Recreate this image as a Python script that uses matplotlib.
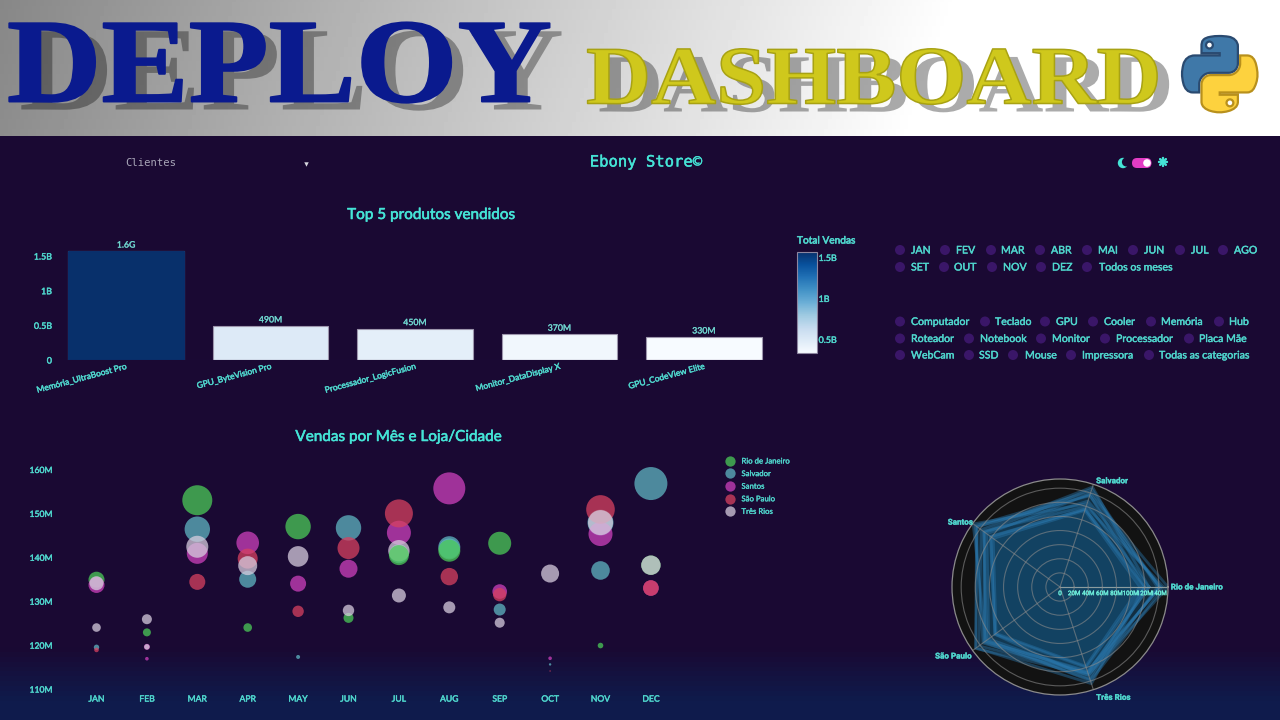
import re
import numpy as np
import matplotlib
matplotlib.use("Agg")
import matplotlib.pyplot as plt
import matplotlib.patheffects as pe
from matplotlib.cm import ScalarMappable
from matplotlib.colors import Normalize
from matplotlib.lines import Line2D
from matplotlib.patches import Circle, FancyBboxPatch, PathPatch
from matplotlib.path import Path
from matplotlib.transforms import Affine2D

plt.rcParams["font.family"] = ["Lato", "DejaVu Sans"]

W, H = 1280, 720
TEAL = "#45e4d6"
TEAL_DIM = "#4fd6cd"
BG = "#1a0933"

# --- Top 5 produtos ---
produtos = ["Memória_UltraBoost Pro", "GPU_ByteVision Pro", "Processador_LogicFusion",
            "Monitor_DataDisplay X", "GPU_CodeView Elite"]
total_vendas = [1.57e9, 0.49e9, 0.45e9, 0.37e9, 0.33e9]

# --- Vendas por mes e loja: mes (indice), valor em milhoes, peso da bolha ---
meses = ["JAN", "FEB", "MAR", "APR", "MAY", "JUN", "JUL", "AUG", "SEP", "OCT", "NOV", "DEC"]

rio_mes = [0, 1, 2, 3, 4, 5, 8, 10, 11]
rio_val = [134.9, 122.9, 153.0, 124.0, 147.0, 126.2, 143.2, 119.9, 138.2]
rio_peso = [8, 4, 15, 4.3, 12.7, 5, 11.5, 2.8, 9.7]

salvador_mes = [0, 2, 3, 4, 5, 6, 7, 7, 8, 9, 10, 10, 11]
salvador_val = [119.5, 146.4, 135.0, 117.3, 146.7, 140.8, 142.3, 141.9, 128.1, 115.6, 147.9, 137.0, 156.8]
salvador_peso = [2.7, 12.7, 8.5, 2, 12.7, 9.5, 11, 10.5, 6, 1.2, 13, 9.3, 16.5]

santos_mes = [0, 1, 1, 2, 3, 4, 5, 6, 7, 8, 9, 10, 11]
santos_val = [133.7, 119.6, 116.9, 140.9, 143.3, 134.0, 137.4, 145.6, 155.7, 132.2, 117.0, 145.3, 133.0]
santos_peso = [8, 3, 1.8, 10.5, 11.3, 8, 9, 12, 16, 7.3, 1.8, 12, 7.8]

sp_mes = [0, 2, 3, 4, 5, 6, 7, 8, 9, 10, 11]
sp_val = [118.9, 134.4, 139.7, 127.7, 142.1, 150.0, 135.6, 131.5, 114.1, 150.9, 133.0]
sp_peso = [2.3, 8, 10, 5.7, 11, 14, 8.7, 6.7, 0.7, 14.3, 7.8]

tres_mes = [0, 0, 1, 1, 2, 3, 4, 5, 6, 6, 7, 8, 9, 10, 11]
tres_val = [134.1, 124.0, 125.9, 119.6, 142.4, 138.1, 140.2, 127.9, 141.5, 131.3, 128.6, 125.1, 136.3, 147.9, 138.2]
tres_peso = [7, 4.3, 5, 2.7, 11, 9.5, 10.3, 5.7, 10.7, 7, 6, 5, 9, 12.5, 9.7]

# pontos do Rio que ficam por cima das outras lojas
rio_topo_mes = [6, 7]
rio_topo_val = [140.5, 141.5]
rio_topo_peso = [10, 11]

lojas = ["Rio de Janeiro", "Salvador", "Santos", "São Paulo", "Três Rios"]
cores_lojas = ["#4bca58", "#5fb5c2", "#cd40bc", "#d74160", "#d6ccde"]

# --- Radar: um poligono por mes (Rio, Salvador, Santos, Sao Paulo, Tres Rios), em milhoes ---
radar_jan = [118, 116, 122, 114, 120]
radar_fev = [113, 114, 117, 112, 118]
radar_mar = [153, 139, 128, 125, 131]
radar_abr = [126, 124, 152, 130, 127]
radar_mai = [147, 120, 134, 128, 140]
radar_jun = [126, 149, 138, 142, 128]
radar_jul = [141, 136, 146, 148, 131]
radar_ago = [141, 142, 148, 135, 129]
radar_set = [143, 128, 132, 131, 125]
radar_out = [120, 116, 121, 114, 136]
radar_nov = [120, 137, 145, 147, 144]
radar_dez = [138, 146, 133, 133, 138]
radar_meses = [radar_jan, radar_fev, radar_mar, radar_abr, radar_mai, radar_jun,
               radar_jul, radar_ago, radar_set, radar_out, radar_nov, radar_dez]
radar_ticks = [0, 20, 40, 60, 80, 100, 120, 140]

# --- Filtros (radio items): texto, x da bolinha, x do texto ---
filtro_meses_1 = ["JAN", "FEV", "MAR", "ABR", "MAI", "JUN", "JUL", "AGO"]
filtro_meses_2 = ["SET", "OUT", "NOV", "DEZ", "Todos os meses"]
filtro_cat_1 = ["Computador", "Teclado", "GPU", "Cooler", "Memória", "Hub"]
filtro_cat_2 = ["Roteador", "Notebook", "Monitor", "Processador", "Placa Mãe"]
filtro_cat_3 = ["WebCam", "SSD", "Mouse", "Impressora", "Todas as categorias"]

linhas_filtro = [
    (250, filtro_meses_1, [900, 945, 991, 1040, 1087, 1133, 1180, 1223],
     [911, 956, 1001, 1051, 1098, 1144, 1191, 1234]),
    (267, filtro_meses_2, [900, 944, 992, 1041, 1087], [911, 954, 1003, 1052, 1099]),
    (321.5, filtro_cat_1, [900, 985, 1045, 1093, 1151, 1219], [911, 995, 1056, 1104, 1161, 1229]),
    (338.5, filtro_cat_2, [900, 969, 1041, 1105, 1189], [911, 980, 1052, 1116, 1199]),
    (355, filtro_cat_3, [900, 969, 1013, 1071, 1149], [911, 979, 1025, 1082, 1159]),
]

# contorno do logo do Python
LOGO_AZUL = ("M54.919,0.001 C50.335,0.022 45.958,0.413 42.106,1.095 C30.760,3.099 28.700,7.295 28.700,15.032 "
             "V25.25 H55.513 V28.656 H28.700 H18.638 C10.845,28.656 4.022,33.340 1.888,42.250 "
             "C-0.574,52.463 -0.683,58.836 1.888,69.500 C3.794,77.438 8.345,83.094 16.138,83.094 H25.357 V70.844 "
             "C25.357,61.994 33.014,54.188 42.106,54.188 H68.888 C76.342,54.188 82.294,48.050 82.294,40.563 V15.032 "
             "C82.294,7.766 76.164,2.307 68.888,1.095 C64.282,0.328 59.503,-0.020 54.919,0.001 Z "
             "M40.419,8.219 C43.188,8.219 45.450,10.517 45.450,13.344 C45.450,16.160 43.188,18.438 40.419,18.438 "
             "C37.640,18.438 35.388,16.160 35.388,13.344 C35.388,10.517 37.640,8.219 40.419,8.219 Z")
LOGO_AMARELO = ("M85.638,28.657 V40.563 C85.638,49.794 77.812,57.563 68.888,57.563 H42.106 "
                "C34.770,57.563 28.700,63.841 28.700,71.188 V96.719 C28.700,103.985 35.018,108.259 42.106,110.344 "
                "C50.594,112.840 58.734,113.291 68.888,110.344 C75.638,108.389 82.294,104.456 82.294,96.719 V86.500 "
                "H55.513 V83.094 H82.294 H95.700 C103.493,83.094 106.397,77.658 109.106,69.500 "
                "C111.905,61.102 111.786,53.025 109.106,42.250 C107.181,34.492 103.504,28.657 95.700,28.657 Z "
                "M70.575,93.313 C73.354,93.313 75.606,95.591 75.606,98.407 C75.606,101.234 73.354,103.532 70.575,103.532 "
                "C67.806,103.532 65.544,101.234 65.544,98.407 C65.544,95.591 67.806,93.313 70.575,93.313 Z")


class TextoLargo(pe.AbstractPathEffect):
    # estica o texto na horizontal a partir de x0 (px) e desenha sombra e contorno
    def __init__(self, sx, x0, sombra=(12, -8), contorno="#000000", lw=0.8):
        super().__init__()
        self.sx, self.x0, self.sombra, self.contorno, self.lw = sx, x0, sombra, contorno, lw

    def draw_path(self, renderer, gc, tpath, affine, rgbFace=None):
        larga = affine + Affine2D().translate(-self.x0, 0).scale(self.sx, 1).translate(self.x0, 0)
        gc_sombra = renderer.new_gc()
        gc_sombra.copy_properties(gc)
        gc_sombra.set_alpha(0.33)
        gc_sombra.set_linewidth(0)
        renderer.draw_path(gc_sombra, tpath, larga + Affine2D().translate(*self.sombra), (0, 0, 0))
        gc_sombra.restore()
        gc_letra = renderer.new_gc()
        gc_letra.copy_properties(gc)
        gc_letra.set_foreground(self.contorno)
        gc_letra.set_linewidth(self.lw)
        renderer.draw_path(gc_letra, tpath, larga, rgbFace)
        gc_letra.restore()


def svg_path(d, x0, y0, scale):
    # mini parser de path SVG (M, C, H, V, Z)
    verts, codes = [], []
    cur = (0.0, 0.0)
    for cmd, args in re.findall(r"([MCHVZ])([^MCHVZ]*)", d):
        nums = [float(n) for n in re.findall(r"-?\d+\.?\d*", args)]
        if cmd == "M":
            cur = (nums[0], nums[1])
            verts.append(cur)
            codes.append(Path.MOVETO)
        elif cmd == "C":
            verts += [(nums[0], nums[1]), (nums[2], nums[3]), (nums[4], nums[5])]
            codes += [Path.CURVE4] * 3
            cur = (nums[4], nums[5])
        elif cmd in "HV":
            cur = (nums[0], cur[1]) if cmd == "H" else (cur[0], nums[0])
            verts.append(cur)
            codes.append(Path.LINETO)
        else:
            verts.append(cur)
            codes.append(Path.CLOSEPOLY)
    pts = np.array(verts) * scale + [x0, y0]
    return Path(pts, codes)


def px_axes(x0, y0, x1, y1, **kw):
    # eixo posicionado em pixels (origem no canto superior esquerdo)
    return fig.add_axes([x0 / W, 1 - y1 / H, (x1 - x0) / W, (y1 - y0) / H], **kw)


def encorpar(cor, lw=0.3):
    return [pe.withStroke(linewidth=lw, foreground=cor)]


fig = plt.figure(figsize=(W / 100, H / 100), dpi=100, facecolor=BG)

# --- Fundo e banner ---
bg = px_axes(0, 0, W, H, zorder=0)
bg.axis("off")

yy = np.linspace(0, 1, 120)[:, None]
fundo = np.ones((120, 1, 3)) * np.array([26, 9, 51]) / 255
mistura = np.clip((yy - 0.88) / 0.09, 0, 1)[:, :, None]
fundo = fundo * (1 - mistura) + np.array([15, 27, 76]) / 255 * mistura
bg.imshow(fundo, extent=(0, W, 720, 137), aspect="auto", zorder=0)

gx, gy = np.meshgrid(np.linspace(0, W, 320), np.linspace(0, 136, 40))
cinza = np.clip(0.53 + 0.47 * (gx + 0.35 * gy) / 960, 0, 1)
bg.imshow(cinza, extent=(0, W, 136.5, 0), aspect="auto", cmap="gray", vmin=0, vmax=1, zorder=0)
bg.set_xlim(0, W)
bg.set_ylim(H, 0)

bg.text(7, 101.5, "DEPLOY", family="Liberation Serif", weight="bold", fontsize=86, color="#0a1a8e",
        va="baseline", ha="left", zorder=3,
        path_effects=[TextoLargo(1.095, 7, contorno="#0a1a8e", lw=1.4)])
bg.text(586, 103.5, "DASHBOARD", family="Liberation Serif", weight="bold", fontsize=59.5, color="#cfc81c",
        va="baseline", ha="left", zorder=3,
        path_effects=[TextoLargo(1.09, 586, contorno="#a8a214", lw=1.1)])

esc = 76 / 111.9
bg.add_patch(PathPatch(svg_path(LOGO_AZUL, 1182, 36, esc), fc="#3f78a8", ec="#2a4a70", lw=1.6, zorder=4))
bg.add_patch(PathPatch(svg_path(LOGO_AMARELO, 1182, 36, esc), fc="#fdd23e", ec="#b8901c", lw=1.6, zorder=4))

# --- Cabecalho ---
bg.text(125, 163, "Clientes", family="DejaVu Sans Mono", fontsize=7.6, color="#a8a6b8", va="center", zorder=3)
bg.plot([306], [164], marker="v", ms=3.2, color="#d8d8e0", mew=0, zorder=3)
bg.text(646, 162, "Ebony Store©", family="DejaVu Sans Mono", fontsize=11.2, color=TEAL, va="center",
        ha="center", zorder=3, path_effects=encorpar(TEAL))
bg.add_patch(Circle((1123, 163), 5.2, fc=TEAL, ec="none", zorder=3))
bg.add_patch(Circle((1126.4, 162), 4.5, fc=BG, ec="none", zorder=3))
bg.add_patch(FancyBboxPatch((1132, 158), 19.5, 10, boxstyle="round,pad=0,rounding_size=5", fc="#e23cc4",
                            ec="none", zorder=3))
bg.add_patch(Circle((1147, 163), 3.8, fc="white", ec="none", zorder=4))
bg.text(1163, 163, "❋", family="DejaVu Sans", fontsize=9, color=TEAL, va="center", ha="center", zorder=3,
        path_effects=encorpar(TEAL, 0.6))

# --- Radio items ---
for y, nomes, x_dot, x_txt in linhas_filtro:
    for nome, xd, xt in zip(nomes, x_dot, x_txt):
        bg.add_patch(Circle((xd, y), 5, fc="#3a1668", ec="none", zorder=3))
        bg.text(xt, y, nome, fontsize=7.6, color=TEAL_DIM, va="center", ha="left", zorder=3,
                path_effects=encorpar(TEAL_DIM))

# --- Barras ---
norm = Normalize(min(total_vendas), max(total_vendas))
cmap = plt.get_cmap("Blues")

ax_bar = px_axes(54, 246, 776, 360, facecolor="none", zorder=2)
x = np.arange(len(produtos))
ax_bar.bar(x, total_vendas, width=0.8, color=cmap(norm(total_vendas)), edgecolor="#9d96ad", linewidth=0.8)
ax_bar.bar(x[:1], total_vendas[:1], width=0.8, color=cmap(norm(total_vendas[:1])), edgecolor="#0a2f6b", linewidth=0.8)
for xi, v in zip(x, total_vendas):
    rotulo = f"{v / 1e9:.1f}G" if v >= 1e9 else f"{v / 1e6:.0f}M"
    ax_bar.annotate(rotulo, (xi, v), xytext=(0, 1.2), textcoords="offset points", ha="center", va="bottom",
                    fontsize=6.3, color="#6fd6cf", annotation_clip=False, path_effects=encorpar("#6fd6cf", 0.2))
ax_bar.set_xlim(-0.5, 4.5)
ax_bar.set_ylim(0, 1.645e9)
ax_bar.set_yticks([0, 0.5e9, 1e9, 1.5e9], ["0", "0.5B", "1B", "1.5B"])
ax_bar.set_xticks(x, produtos, rotation=15, ha="right", rotation_mode="anchor")
ax_bar.tick_params(axis="y", length=0, pad=1.5, labelsize=6.4, labelcolor=TEAL_DIM)
ax_bar.tick_params(axis="x", length=0, pad=2, labelsize=6.1, labelcolor=TEAL_DIM)
for lb in ax_bar.get_xticklabels() + ax_bar.get_yticklabels():
    lb.set_path_effects(encorpar(TEAL_DIM))
for s in ax_bar.spines.values():
    s.set_visible(False)
ax_bar.axhline(0, color="#2c1a48", lw=0.8)

bg.text(431, 215, "Top 5 produtos vendidos", fontsize=11, color=TEAL, ha="center", va="center", zorder=3,
        path_effects=encorpar(TEAL, 0.4))

# --- Barra de cores ---
cax = px_axes(797, 251.7, 816.5, 353.3, zorder=2)
cb = fig.colorbar(ScalarMappable(norm=norm, cmap=cmap), cax=cax)
cb.set_ticks([0.5e9, 1e9, 1.5e9], labels=["0.5B", "1B", "1.5B"])
cax.tick_params(length=0, pad=1.5, labelsize=6.4, labelcolor=TEAL_DIM)
for lb in cax.get_yticklabels():
    lb.set_path_effects(encorpar(TEAL_DIM))
cb.outline.set_edgecolor("#8d86a0")
cb.outline.set_linewidth(0.8)
bg.text(797, 241, "Total Vendas", fontsize=7.3, color=TEAL_DIM, ha="left", va="center", zorder=3,
        path_effects=encorpar(TEAL_DIM, 0.4))

# --- Bolhas ---
ax_bub = px_axes(54, 445, 700, 689, facecolor="none", zorder=2)
series = [(rio_mes, rio_val, rio_peso, cores_lojas[0]), (salvador_mes, salvador_val, salvador_peso, cores_lojas[1]),
          (santos_mes, santos_val, santos_peso, cores_lojas[2]), (sp_mes, sp_val, sp_peso, cores_lojas[3]),
          (tres_mes, tres_val, tres_peso, cores_lojas[4]), (rio_topo_mes, rio_topo_val, rio_topo_peso, cores_lojas[0])]
for m, v, p, cor in series:
    ax_bub.scatter(m, v, s=(1.44 * np.array(p)) ** 2, color=cor, alpha=0.75, linewidths=0, clip_on=False)
ax_bub.set_xlim((54 - 96.5) / 50.4, (700 - 96.5) / 50.4)
ax_bub.set_ylim(110, 110 + 244 / 4.39)
ax_bub.set_xticks(range(12), meses)
ax_bub.set_yticks([110, 120, 130, 140, 150, 160], ["110M", "120M", "130M", "140M", "150M", "160M"])
ax_bub.tick_params(axis="y", length=0, pad=1, labelsize=6.2, labelcolor=TEAL_DIM)
ax_bub.tick_params(axis="x", length=0, pad=4, labelsize=6.2, labelcolor=TEAL_DIM)
for lb in ax_bub.get_xticklabels() + ax_bub.get_yticklabels():
    lb.set_path_effects(encorpar(TEAL_DIM))
for s in ax_bub.spines.values():
    s.set_visible(False)

alcas = [Line2D([], [], ls="", marker="o", ms=7.4, mew=0, color=c, alpha=0.75) for c in cores_lojas]
leg = fig.legend(alcas, lojas, loc="upper left", bbox_to_anchor=(722 / W, 1 - 457.5 / H), frameon=False,
                 fontsize=5.6, labelcolor=TEAL_DIM, labelspacing=0.72, handletextpad=0.5, borderpad=0,
                 borderaxespad=0)
for lb in leg.get_texts():
    lb.set_path_effects(encorpar(TEAL_DIM, 0.2))

bg.text(398.5, 437, "Vendas por Mês e Loja/Cidade", fontsize=11, color=TEAL, ha="center", va="center", zorder=3,
        path_effects=encorpar(TEAL, 0.4))

# --- Radar ---
rmax = 153
ax_pol = px_axes(952, 479, 1168, 695, projection="polar", facecolor="#121212", zorder=2)
ang = np.deg2rad([0, 72, 144, 216, 288])
ang_fech = np.append(ang, ang[0])
for linha in radar_meses:
    r = np.append(linha, linha[0])
    ax_pol.fill(ang_fech, r, color="#1f77b4", alpha=0.06, lw=0)
    ax_pol.plot(ang_fech, r, color="#2a78ae", lw=2.0, alpha=0.42)
ax_pol.set_ylim(0, rmax)
ax_pol.set_yticks(radar_ticks[1:])
ax_pol.set_yticklabels([])
ax_pol.set_xticks(ang)
ax_pol.set_xticklabels([])
ax_pol.set_axisbelow(False)
ax_pol.grid(True, color="#8b8b8b", lw=0.8, alpha=0.6)
ax_pol.spines["polar"].set_color("#8b8b8b")
ax_pol.spines["polar"].set_linewidth(0.9)
ax_pol.plot([0, 0], [0, rmax], color="#bfe9e4", lw=0.8, alpha=0.7)

for t in radar_ticks:
    ax_pol.annotate(f"{t}M" if t else "0", (0, t), xytext=(0, -3), textcoords="offset points", ha="center",
                    va="top", fontsize=4.5, color="#6ff0dc", family="Roboto", annotation_clip=False,
                    path_effects=encorpar("#6ff0dc", 0.2))

offsets = [(2, 0, "left", "center"), (2, 0, "left", "bottom"), (0, 1, "right", "center"),
           (-1, -4, "right", "center"), (2, -3, "left", "top")]
for a, nome, (dx, dy, ha, va) in zip(ang, lojas, offsets):
    ax_pol.annotate(nome, (a, rmax), xytext=(dx, dy), textcoords="offset points", ha=ha, va=va, fontsize=5.8,
                    color=TEAL_DIM, family="Roboto", weight="bold", annotation_clip=False,
                    path_effects=encorpar(TEAL_DIM, 0.2))

fig.savefig("out.png", dpi=100, facecolor=fig.get_facecolor())
